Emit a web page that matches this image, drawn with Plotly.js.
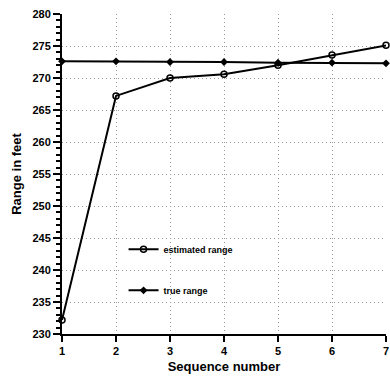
<!DOCTYPE html>
<html>
<head>
<meta charset="utf-8">
<script src="https://cdn.plot.ly/plotly-3.0.1.min.js"></script>
<style>html,body{margin:0;padding:0;background:#fff;}#chart{width:390px;height:387px;}</style>
</head>
<body>
<div id="chart"></div>
<script>
var sequence = [1, 2, 3, 4, 5, 6, 7];
var estimatedRange = [232.2, 267.2, 270.0, 270.6, 272.0, 273.6, 275.1];
var trueRange = [272.6, 272.6, 272.5, 272.5, 272.4, 272.4, 272.3];
var xTicks = [1, 2, 3, 4, 5, 6, 7];
var yTickStart = 230;
var yTickStep = 5;
var yMinorStep = 1;

var fam = '"Liberation Sans", Arial, sans-serif';

var traces = [
  {x: sequence, y: estimatedRange, name: 'estimated range', mode: 'lines+markers',
   legendgroup: 'a', cliponaxis: false,
   line: {color: '#000', width: 2},
   marker: {symbol: 'circle-open', size: 6, color: '#000', line: {width: 1.5}}},
  {x: sequence, y: trueRange, name: 'true range', mode: 'lines+markers',
   legendgroup: 'b', cliponaxis: false,
   line: {color: '#000', width: 2},
   marker: {symbol: 'diamond', size: 6, color: '#000'}}
];

var layout = {
  width: 390, height: 387,
  margin: {l: 62, r: 4, t: 14, b: 53},
  paper_bgcolor: '#fff', plot_bgcolor: '#fff',
  font: {family: fam, size: 11, color: '#000'},
  showlegend: true,
  legend: {x: 0.19, y: 0.31, xanchor: 'left', yanchor: 'top', bgcolor: 'rgba(0,0,0,0)',
           traceorder: 'grouped', tracegroupgap: 22,
           font: {family: fam, size: 9, color: '#000', weight: 'bold'}},
  xaxis: {range: [1, 7], tickmode: 'array', tickvals: xTicks, ticktext: xTicks.map(String),
          ticklabeloverflow: 'allow',
          showline: true, linecolor: '#000', linewidth: 2,
          ticks: 'outside', ticklen: 6, tickwidth: 2, tickcolor: '#000',
          showgrid: true, gridcolor: '#999', griddash: '1px,3px', gridwidth: 1,
          zeroline: false,
          tickfont: {family: fam, size: 11, color: '#000', weight: 'bold'},
          title: {text: 'Sequence number', standoff: 6,
                  font: {family: fam, size: 13, color: '#000', weight: 'bold'}}},
  yaxis: {range: [230, 280], tickmode: 'linear', tick0: yTickStart, dtick: yTickStep,
          showline: true, linecolor: '#000', linewidth: 2,
          ticks: 'outside', ticklen: 7, tickwidth: 2, tickcolor: '#000',
          minor: {tickmode: 'linear', tick0: yTickStart, dtick: yMinorStep, ticks: 'outside',
                  ticklen: 4, tickwidth: 1.5, tickcolor: '#000', showgrid: false},
          showgrid: true, gridcolor: '#999', griddash: '1px,3px', gridwidth: 1,
          zeroline: false,
          tickfont: {family: fam, size: 11, color: '#000', weight: 'bold'},
          title: {text: 'Range in feet', standoff: 8,
                  font: {family: fam, size: 13, color: '#000', weight: 'bold'}}}
};

Plotly.newPlot('chart', traces, layout, {displayModeBar: false});
</script>
</body>
</html>
